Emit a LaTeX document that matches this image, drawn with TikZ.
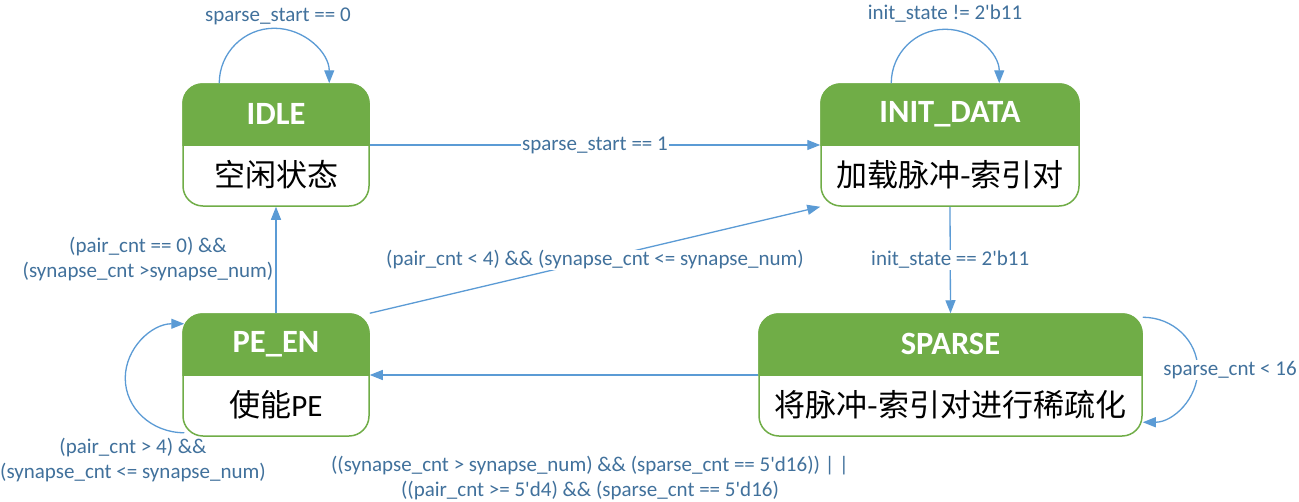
\documentclass[tikz,border=0pt]{standalone}
\usepackage{fontspec}
\setmainfont{Carlito}[Ligatures=TeXOff]
\newfontfamily\cjk{Noto Sans CJK SC}
\usetikzlibrary{arrows.meta}
\definecolor{stgreen}{RGB}{112,173,71}
\definecolor{arrowblue}{RGB}{91,155,213}
\definecolor{labelblue}{RGB}{65,113,156}
\newcommand\lblfont{\fontsize{21pt}{24.5pt}\selectfont}
\newcommand\stheader[1]{%
  \begin{scope}
    \clip (#1.north west) rectangle (#1.east);
    \fill[stgreen, rounded corners=20pt] (#1.north west) rectangle (#1.south east);
  \end{scope}}
\tikzset{
  state/.style={draw=stgreen, line width=1.5pt, fill=white, rounded corners=20pt,
    minimum height=122pt, inner sep=0pt},
  titletext/.style={text=white, font=\fontsize{32.5pt}{38pt}\selectfont\bfseries, inner sep=0pt},
  desctext/.style={text=black, font=\fontsize{31pt}{36pt}\selectfont, inner sep=0pt},
  lbl/.style={text=labelblue, font=\lblfont, align=center, inner sep=1pt},
  lblbg/.style={lbl, fill=white},
  arr/.style={draw=arrowblue, line width=1.3pt, -{Triangle[length=13pt, width=10pt]}},
}
\begin{document}
\begin{tikzpicture}[x=1pt, y=-1pt]
\useasboundingbox[fill=white] (0,0) rectangle (1299,501);

% states
\node[state, minimum width=186pt] (idle) at (276,145) {};
\stheader{idle}
\node[titletext, yshift=31pt] (idle-t) at (idle.center) {IDLE};
\node[desctext, yshift=-30pt] (idle-d) at (idle.center) {\cjk 空闲状态};

\node[state, minimum width=258pt] (init) at (950,145) {};
\stheader{init}
\node[titletext, yshift=31pt] (init-t) at (init.center) {INIT\_DATA};
\node[desctext, yshift=-30pt] (init-d) at (init.center) {\cjk 加载脉冲-索引对};

\node[state, minimum width=186pt] (pe) at (276,375) {};
\stheader{pe}
\node[titletext, yshift=31pt] (pe-t) at (pe.center) {PE\_EN};
\node[desctext, yshift=-30pt] (pe-d) at (pe.center) {{\cjk 使能}PE};

\node[state, minimum width=383pt] (sparse) at (950.5,375) {};
\stheader{sparse}
\node[titletext, yshift=31pt] (sparse-t) at (sparse.center) {SPARSE};
\node[desctext, yshift=-30pt] (sparse-d) at (sparse.center) {\cjk 将脉冲-索引对进行稀疏化};

% self loops
\draw[arr] ([xshift=37pt]idle.north west) arc[start angle=180, end angle=360, radius=55];
\node[lbl] (l-idle) at (278,16) {sparse\_start == 0};

\draw[arr] ([xshift=71pt]init.north west) arc[start angle=180, end angle=360, radius=54];
\node[lbl] (l-init) at (945,14) {init\_state != 2'b11};

\draw[arr] ([xshift=2pt,yshift=4pt]pe.south west) arc[start angle=90, end angle=270, x radius=59, y radius=54.5];
\node[lbl] (l-pe) at (133,460) {(pair\_cnt > 4) \&\&\\(synapse\_cnt <= synapse\_num)};

\draw[arr] ([yshift=-4pt]sparse.north east) arc[start angle=-90, end angle=90, x radius=55, y radius=52.5];
\node[lblbg] (l-sparse) at (1230,370) {sparse\_cnt < 16};

% transitions
\draw[arr] (idle.east) -- node[lblbg] (l-ii) {sparse\_start == 1} (init.west);
\draw[arr] (init.south) -- node[lblbg] (l-is) {init\_state == 2'b11} (sparse.north);
\draw[arr] (sparse.west) -- (pe.east);
\node[lbl] (l-sp) at (590,478) {((synapse\_cnt > synapse\_num) \&\& (sparse\_cnt == 5'd16)) | |\\((pair\_cnt >= 5'd4) \&\& (sparse\_cnt == 5'd16)};
\draw[arr] (pe.north) -- (idle.south);
\node[lbl] (l-pi) at (148,259) {(pair\_cnt == 0) \&\&\\(synapse\_cnt >synapse\_num)};
\draw[arr] (pe.north east) -- node[lblbg] (l-pn) {(pair\_cnt < 4) \&\& (synapse\_cnt <= synapse\_num)} (init.south west);
\end{tikzpicture}
\end{document}
